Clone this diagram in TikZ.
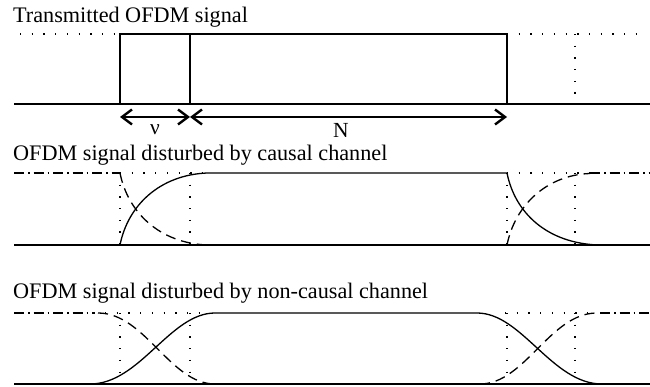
\documentclass[tikz,border=0pt]{standalone}
\usepackage{fontspec}
\setmainfont{Liberation Serif}
\usetikzlibrary{arrows.meta}
\begin{document}
\begin{tikzpicture}[x=1pt,y=-1pt,
  sig/.style={line width=1.3pt},
  dotl/.style={line width=1.3pt,dash pattern=on 1.3pt off 10.4pt},
  dashl/.style={line width=1.3pt,dash pattern=on 10pt off 6pt},
  dashdotl/.style={line width=1.3pt,dash pattern=on 10pt off 4pt on 1.5pt off 4pt},
  dimarrow/.style={line width=1.3pt,{Straight Barb[length=10pt,width=15pt,line width=2.4pt]}-{Straight Barb[length=10pt,width=15pt,line width=2.4pt]}},
  title/.style={anchor=base west,inner sep=0pt,font=\fontsize{22.2}{25}\selectfont},
  lab/.style={inner sep=0pt,font=\fontsize{21.5}{24}\selectfont}]
\useasboundingbox (0,0) rectangle (650,387);

% ---------- Panel 1 ----------
\node[title] (t1) at (13,23) {Transmitted OFDM signal};
\coordinate (a0) at (14,104);
\coordinate (a1) at (650,104);
\draw[sig] (a0) -- (a1);
\draw[dotl] (20,34) -- (120,34);
\draw[dotl] (507,34) -- (645,34);
\draw[dotl] (575,34) -- (575,104);
\draw[sig] (120,104) -- (120,34) -- (507,34) -- (507,104);
\draw[sig] (190,104) -- (190,34);
\coordinate (p1) at (120,117);
\coordinate (p2) at (190,117);
\coordinate (p3) at (507,117);
\draw[dimarrow] (p1) -- (p2);
\draw[dimarrow] (p2) -- (p3);
\node[lab] (nu) at (155,130) {ν};
\node[lab] (nN) at (341,130) {N};

% ---------- Panel 2 ----------
\node[title] (t2) at (13,161) {OFDM signal disturbed by causal channel};
\draw[sig] (14,245) -- (650,245);
\draw[dashdotl] (14,173) -- (120,173);
\draw[dotl] (120,173) -- (205,173);
\draw[dotl] (507,173) -- (590,173);
\draw[dotl] (120,173) -- (120,245);
\draw[dotl] (190,173) -- (190,245);
\draw[dotl] (507,173) -- (507,245);
\draw[dotl] (575,173) -- (575,245);
\draw[sig] (120,245) .. controls (128,205) and (160,175) .. (207,173) -- (507,173)
  .. controls (515,213) and (547,243) .. (598,245);
\draw[dashl] (120,173) .. controls (128,213) and (160,243) .. (207,245);
\draw[dashl] (507,245) .. controls (515,205) and (547,175) .. (590,173.5);
\draw[dashdotl] (590,173) -- (650,173);

% ---------- Panel 3 ----------
\node[title] (t3) at (13,298) {OFDM signal disturbed by non-causal channel};
\draw[sig] (14,384) -- (650,384);
\draw[dashdotl] (14,313) -- (95,313);
\draw[dotl] (105,313) -- (210,313);
\draw[dotl] (505,313) -- (595,313);
\draw[dotl] (120,313) -- (120,384);
\draw[dotl] (190,313) -- (190,384);
\draw[dotl] (507,313) -- (507,384);
\draw[dotl] (575,313) -- (575,384);
\draw[sig] (90,384) .. controls (140,384) and (170,313) .. (215,313) -- (477,313)
  .. controls (522,313) and (552,384) .. (602,384);
\draw[dashl] (98,313) .. controls (145,313) and (170,384) .. (215,384);
\draw[dashl] (480,384) .. controls (525,384) and (550,313) .. (597,313);
\draw[dashdotl] (600,313) -- (650,313);
\end{tikzpicture}
\end{document}
